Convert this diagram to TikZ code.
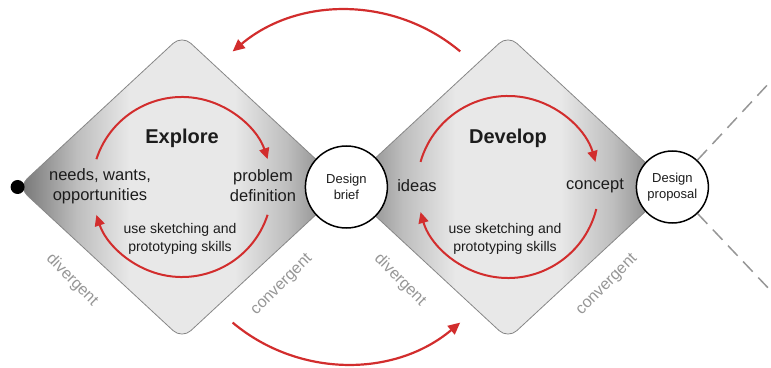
\documentclass[tikz,border=0pt]{standalone}
\usepackage{fontspec}
\setmainfont{Liberation Sans}
\usetikzlibrary{shapes.geometric, arrows.meta, positioning}

\definecolor{arrowred}{RGB}{210,45,45}
\definecolor{edgegray}{RGB}{135,135,135}
\definecolor{labelgray}{RGB}{150,150,150}
\definecolor{shadedark}{RGB}{115,115,115}
\definecolor{shademid}{RGB}{190,190,190}
\definecolor{shadelight}{RGB}{232,232,232}
\definecolor{textdark}{RGB}{28,28,28}

\pgfdeclarehorizontalshading{phaseshade}{100bp}{color(0bp)=(shadedark); color(25bp)=(shadedark); color(34bp)=(shademid); color(42bp)=(shadelight); color(58bp)=(shadelight); color(66bp)=(shademid); color(75bp)=(shadedark); color(100bp)=(shadedark)}

\tikzstyle{phasebox} = [diamond, minimum width=328pt, minimum height=304pt, inner sep=0pt, rounded corners=12pt, draw=edgegray, line width=0.8pt, shading=phaseshade]
\tikzstyle{gate} = [circle, draw=black, line width=1.5pt, fill=white, align=center, inner sep=0pt, text=textdark, font=\fontsize{13}{16}\selectfont]
\tikzstyle{phasetitle} = [text=textdark, font=\fontsize{20}{24}\selectfont\bfseries]
\tikzstyle{stagetext} = [align=center, text=textdark, font=\fontsize{16.5}{20}\selectfont]
\tikzstyle{skilltext} = [align=center, text=textdark, font=\fontsize{14}{18}\selectfont]
\tikzstyle{modetext} = [text=labelgray, font=\fontsize{16}{19}\selectfont]
\tikzstyle{looparrow} = [arrowred, line width=2pt, -{Triangle[length=11pt, width=10pt]}]
\tikzstyle{hoparrow} = [arrowred, line width=2.2pt, -{Triangle[length=12pt, width=11pt]}]
\tikzstyle{exitline} = [labelgray, line width=1.5pt, dash pattern=on 14pt off 8pt]

\begin{document}
\begin{tikzpicture}[x=1pt, y=1pt]
        \useasboundingbox (0,0) rectangle (771,367);

        % Phases
        \node (explore) [phasebox] at (182,180) {};
        \node (develop) [phasebox] at (508,180) {};

        % Labels inside the phases
        \node (exploretitle) [phasetitle] at ([yshift=49pt]explore.center) {Explore};
        \node (needs) [stagetext] at ([xshift=-82pt, yshift=1pt]explore.center) {needs, wants,\\opportunities};
        \node (problem) [stagetext] at ([xshift=81pt, yshift=1pt]explore.center) {problem\\definition};
        \node (exploreskills) [skilltext] at ([xshift=-2pt, yshift=-52pt]explore.center) {use sketching and\\prototyping skills};

        \node (developtitle) [phasetitle] at ([yshift=49pt]develop.center) {Develop};
        \node (ideas) [stagetext] at ([xshift=-91pt, yshift=1pt]develop.center) {ideas};
        \node (concept) [stagetext] at ([xshift=87pt, yshift=1pt]develop.center) {concept};
        \node (developskills) [skilltext] at ([xshift=-3pt, yshift=-52pt]develop.center) {use sketching and\\prototyping skills};

        % Labels along the edges
        \node (explorediv) [modetext, rotate=-45] at (72,87) {divergent};
        \node (exploreconv) [modetext, rotate=45] at (282,82) {convergent};
        \node (developdiv) [modetext, rotate=-45] at (400,87) {divergent};
        \node (developconv) [modetext, rotate=45] at (607,82) {convergent};

        % Start point and outcomes
        \node (start) [circle, fill=black, minimum size=14pt, inner sep=0pt] at (explore.west) {};
        \node (brief) [gate, minimum size=82pt] at (explore.east) {Design\\brief};
        \node (proposal) [gate, minimum size=72pt] at (develop.east) {Design\\proposal};

        % Dashed exits
        \coordinate (upperexit) at (771,286);
        \coordinate (lowerexit) at (771,76);
        \draw [exitline] (proposal) -- (upperexit);
        \draw [exitline] (proposal) -- (lowerexit);

        % Arrows
        \draw [looparrow] (explore.center) ++(162:90pt) arc[start angle=162, end angle=18, radius=90pt];
        \draw [looparrow] (explore.center) ++(-18:90pt) arc[start angle=-18, end angle=-162, radius=90pt];
        \draw [looparrow] (develop.center) ++(164:91pt) arc[start angle=164, end angle=16, radius=91pt];
        \draw [looparrow] (develop.center) ++(-14:91pt) arc[start angle=-14, end angle=-164, radius=91pt];
        \draw [hoparrow] (brief.center) ++(50:177pt) arc[start angle=50, end angle=130, radius=177pt];
        \draw [hoparrow] (brief.center) ++(230:177pt) arc[start angle=230, end angle=310, radius=177pt];
    \end{tikzpicture}
\end{document}
